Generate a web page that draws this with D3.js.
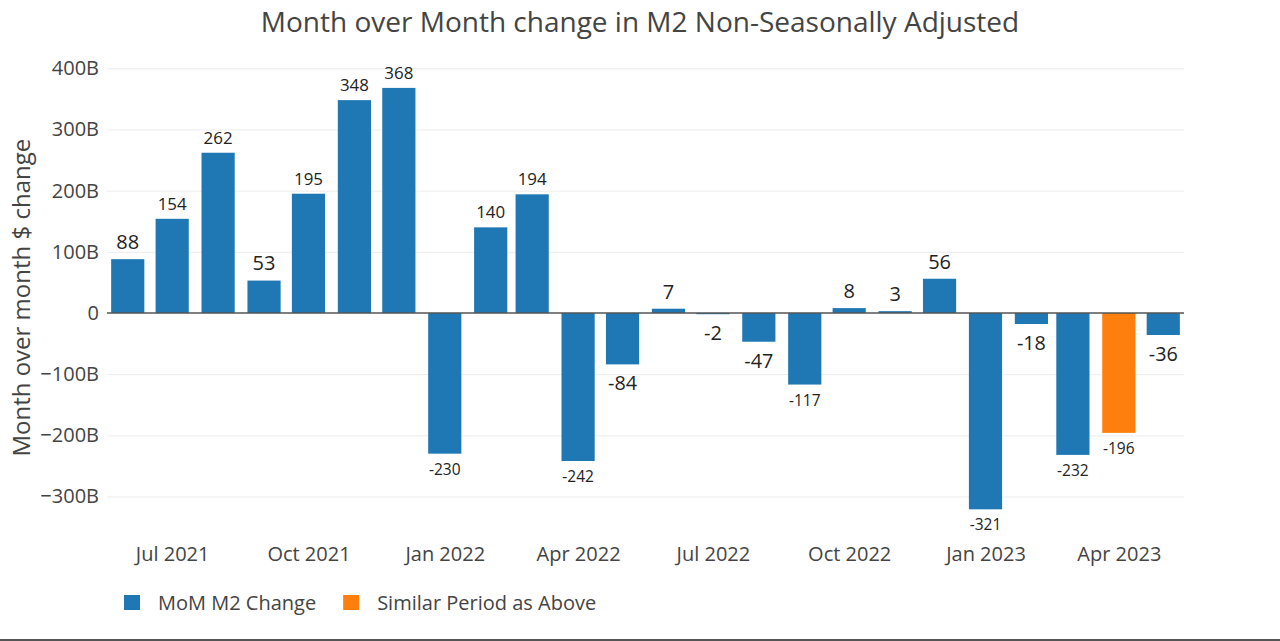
<!DOCTYPE html>
<html>
<head>
<meta charset="utf-8">
<script src="https://cdn.jsdelivr.net/npm/d3@7"></script>
<style>
  html, body { margin: 0; padding: 0; background: #fff; }
  svg { display: block; font-family: "Open Sans", sans-serif; }
</style>
</head>
<body>
<svg id="chart" width="1280" height="641"></svg>
<script>
// ---- data ----
const months = ["2021-06","2021-07","2021-08","2021-09","2021-10","2021-11","2021-12",
  "2022-01","2022-02","2022-03","2022-04","2022-05","2022-06","2022-07","2022-08","2022-09",
  "2022-10","2022-11","2022-12","2023-01","2023-02","2023-03","2023-04","2023-05"];
const values = [88,154,262,53,195,348,368,-230,140,194,-242,-84,7,-2,-47,-117,8,3,56,-321,-18,-232,-196,-36];
const seriesOf = [0,0,0,0,0,0,0,0,0,0,0,0,0,0,0,0,0,0,0,0,0,0,1,0];
const seriesNames = ["MoM M2 Change", "Similar Period as Above"];
const seriesColors = ["#1f77b4", "#ff7f0e"];
const yTicks = [-300,-200,-100,0,100,200,300,400];
const titleText = "Month over Month change in M2 Non-Seasonally Adjusted";
const yTitle = "Month over month $ change";

// ---- layout ----
const W = 1280, H = 641;
const plot = { left: 107, right: 1184, top: 56.1, bottom: 539.3 };
const parse = d3.timeParse("%Y-%m");
const dates = months.map(parse);

const svg = d3.select("#chart");

const x = d3.scaleTime()
  .domain([d3.timeDay.offset(dates[0], -14), d3.timeDay.offset(dates[dates.length-1], 14)])
  .range([plot.left, plot.right]);
const y = d3.scaleLinear().domain([-370, 420]).range([plot.bottom, plot.top]);

// bar width: minimum gap * 0.8
let minGap = Infinity;
for (let i = 1; i < dates.length; i++) minGap = Math.min(minGap, x(dates[i]) - x(dates[i-1]));
const bw = minGap * 0.8;

// gridlines
const yAxis = d3.axisLeft(y).tickValues(yTicks)
  .tickSize(-(plot.right - plot.left)).tickPadding(8)
  .tickFormat(v => v === 0 ? "0" : (v < 0 ? "\u2212" : "") + Math.abs(v) + "B");
const gy = svg.append("g").attr("transform", `translate(${plot.left},0)`).call(yAxis);
gy.select(".domain").remove();
gy.selectAll(".tick line").attr("stroke", d => d === 0 ? "none" : "#ececec").attr("stroke-width", 1);
gy.selectAll(".tick text").attr("font-size", 20).attr("fill", "#444")
  .attr("font-family", "Open Sans, sans-serif").attr("x", -8);

// bars
svg.append("g").selectAll("rect").data(values).join("rect")
  .attr("x", (d, i) => x(dates[i]) - bw / 2)
  .attr("width", bw)
  .attr("y", d => y(Math.max(0, d)))
  .attr("height", d => Math.abs(y(d) - y(0)))
  .attr("fill", (d, i) => seriesColors[seriesOf[i]]);

// zero line
svg.append("line")
  .attr("x1", plot.left).attr("x2", plot.right)
  .attr("y1", y(0)).attr("y2", y(0))
  .attr("stroke", "#555").attr("stroke-width", 1.5);

// value labels
const lbl = svg.append("g");
values.forEach((v, i) => {
  const t = lbl.append("text")
    .attr("text-anchor", "middle")
    .attr("fill", "#222")
    .attr("font-size", 20)
    .text(String(v));
  const w20 = t.node().getComputedTextLength();
  let fs = Math.min(20, 20 * 29 / w20);
  fs = Math.max(fs, 15.5);
  t.attr("font-size", fs);
  const cx = x(dates[i]);
  if (v >= 0) {
    t.attr("x", cx).attr("y", y(v) - 3 - 0.36 * fs);
  } else {
    t.attr("x", cx).attr("y", y(v) + 4 + 1.1 * fs);
  }
});

// x axis labels
const xAxis = d3.axisBottom(x)
  .ticks(d3.timeMonth.filter(d => d.getMonth() % 3 === 0))
  .tickFormat(d3.timeFormat("%b %Y"))
  .tickSize(0).tickPadding(0);
const gx = svg.append("g").attr("transform", `translate(0,${plot.bottom})`).call(xAxis);
gx.select(".domain").remove();
gx.selectAll(".tick text").attr("font-size", 20).attr("fill", "#444")
  .attr("font-family", "Open Sans, sans-serif").attr("dy", null).attr("y", 22);

// title
svg.append("text").attr("x", 640).attr("y", 32)
  .attr("text-anchor", "middle").attr("font-size", 28).attr("fill", "#444")
  .text(titleText);

// y axis title
svg.append("text")
  .attr("transform", `translate(30,${(plot.top + plot.bottom) / 2}) rotate(-90)`)
  .attr("text-anchor", "middle").attr("font-size", 24).attr("fill", "#444")
  .text(yTitle);

// legend
const leg = svg.append("g");
let lx = 124;
seriesNames.forEach((name, k) => {
  leg.append("rect").attr("x", lx).attr("y", 595).attr("width", 16).attr("height", 15)
    .attr("fill", seriesColors[k]);
  const t = leg.append("text").attr("x", lx + 34).attr("y", 610)
    .attr("font-size", 20).attr("fill", "#444").text(name);
  lx = lx + 34 + t.node().getComputedTextLength() + 27;
});

// bottom border
svg.append("rect").attr("x", 0).attr("y", 639).attr("width", W).attr("height", 2).attr("fill", "#555");
</script>
</body>
</html>
